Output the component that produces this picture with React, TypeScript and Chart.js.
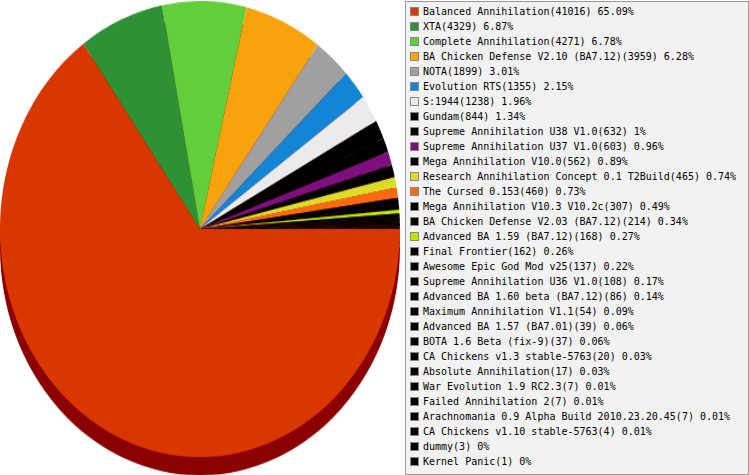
import React, { useEffect, useRef } from 'react';
import { Chart, registerables } from 'chart.js';

Chart.register(...registerables);

const MODS = [
  'Balanced Annihilation',
  'XTA',
  'Complete Annihilation',
  'BA Chicken Defense V2.10 (BA7.12)',
  'NOTA',
  'Evolution RTS',
  'S:1944',
  'Gundam',
  'Supreme Annihilation U38 V1.0',
  'Supreme Annihilation U37 V1.0',
  'Mega Annihilation V10.0',
  'Research Annihilation Concept 0.1 T2Build',
  'The Cursed 0.153',
  'Mega Annihilation V10.3 V10.2c',
  'BA Chicken Defense V2.03 (BA7.12)',
  'Advanced BA 1.59 (BA7.12)',
  'Final Frontier',
  'Awesome Epic God Mod v25',
  'Supreme Annihilation U36 V1.0',
  'Advanced BA 1.60 beta (BA7.12)',
  'Maximum Annihilation V1.1',
  'Advanced BA 1.57 (BA7.01)',
  'BOTA 1.6 Beta (fix-9)',
  'CA Chickens v1.3 stable-5763',
  'Absolute Annihilation',
  'War Evolution 1.9 RC2.3',
  'Failed Annihilation 2',
  'Arachnomania 0.9 Alpha Build 2010.23.20.45',
  'CA Chickens v1.10 stable-5763',
  'dummy',
  'Kernel Panic',
];

const GAMES = [
  41016, 4329, 4271, 3959, 1899, 1355, 1238, 844, 632, 603, 562, 465, 460, 307, 214, 168,
  162, 137, 108, 86, 54, 39, 37, 20, 17, 7, 7, 7, 4, 3, 1,
];

const SHARE = [
  '65.09%', '6.87%', '6.78%', '6.28%', '3.01%', '2.15%', '1.96%', '1.34%', '1%', '0.96%',
  '0.89%', '0.74%', '0.73%', '0.49%', '0.34%', '0.27%', '0.26%', '0.22%', '0.17%', '0.14%',
  '0.09%', '0.06%', '0.06%', '0.03%', '0.03%', '0.01%', '0.01%', '0.01%', '0.01%', '0%', '0%',
];

const COLORS = [
  '#d93600', '#2e9134', '#62cf3a', '#f9a30c', '#a0a0a0', '#1484d4', '#ebebeb', '#000000',
  '#000000', '#7e0f80', '#000000', '#dcdc28', '#ff6a10', '#000000', '#000000', '#bde500',
  '#000000', '#000000', '#000000', '#000000', '#000000', '#000000', '#000000', '#000000',
  '#000000', '#000000', '#000000', '#000000', '#000000', '#000000', '#000000',
];

const SHADOW = '#8b0000';
const DEPTH = 16;

// draws the dark "side" of the pie below each slice
const depthPlugin = {
  id: 'pieDepth',
  beforeDatasetsDraw(chart: Chart) {
    const ctx = chart.ctx;
    const meta = chart.getDatasetMeta(0);
    ctx.save();
    ctx.fillStyle = SHADOW;
    meta.data.forEach((el: any) => {
      const { x, y, startAngle, endAngle, outerRadius } = el.getProps(
        ['x', 'y', 'startAngle', 'endAngle', 'outerRadius'],
        true
      );
      ctx.beginPath();
      ctx.moveTo(x, y + DEPTH);
      ctx.arc(x, y + DEPTH, outerRadius, startAngle, endAngle);
      ctx.closePath();
      ctx.fill();
    });
    ctx.restore();
  },
};

const App: React.FC = () => {
  const canvasRef = useRef<HTMLCanvasElement>(null);
  const chartRef = useRef<Chart | null>(null);

  useEffect(() => {
    document.body.style.margin = '0';
    if (!canvasRef.current) return;
    if (chartRef.current) chartRef.current.destroy();

    chartRef.current = new Chart(canvasRef.current, {
      type: 'pie',
      data: {
        labels: MODS,
        datasets: [
          {
            data: GAMES,
            backgroundColor: COLORS,
            borderWidth: 0,
          },
        ],
      },
      options: {
        responsive: false,
        animation: false,
        rotation: 90,
        layout: { padding: { bottom: DEPTH } },
        plugins: {
          legend: { display: false },
          tooltip: { enabled: false },
        },
      },
      plugins: [depthPlugin],
    });

    return () => {
      chartRef.current?.destroy();
      chartRef.current = null;
    };
  }, []);

  return (
    <div style={{ position: 'relative', width: 749, height: 475, background: '#fff', overflow: 'hidden' }}>
      <div
        style={{
          position: 'absolute',
          left: 0,
          top: 1,
          width: 400,
          height: 416,
          transform: 'scaleY(1.14)',
          transformOrigin: 'top left',
        }}
      >
        <canvas ref={canvasRef} width={400} height={416} />
      </div>
      {/* legend */}
      <div
        style={{
          position: 'absolute',
          left: 405,
          top: 1,
          width: 344,
          height: 474,
          boxSizing: 'border-box',
          border: '1px solid #999',
          background: '#f2f2f2',
          paddingTop: 2,
          fontFamily: '"DejaVu Sans Mono", monospace',
          fontSize: 10,
          color: '#000',
        }}
      >
        {MODS.map((m, i) => (
          <div key={i} style={{ display: 'flex', alignItems: 'center', height: 15, whiteSpace: 'nowrap' }}>
            <span
              style={{
                display: 'inline-block',
                width: 9,
                height: 9,
                boxSizing: 'border-box',
                border: '1px solid #888',
                background: COLORS[i],
                marginLeft: 4,
                marginRight: 4,
              }}
            />
            <span>{`${m}(${GAMES[i]}) ${SHARE[i]}`}</span>
          </div>
        ))}
      </div>
    </div>
  );
};

export default App;
